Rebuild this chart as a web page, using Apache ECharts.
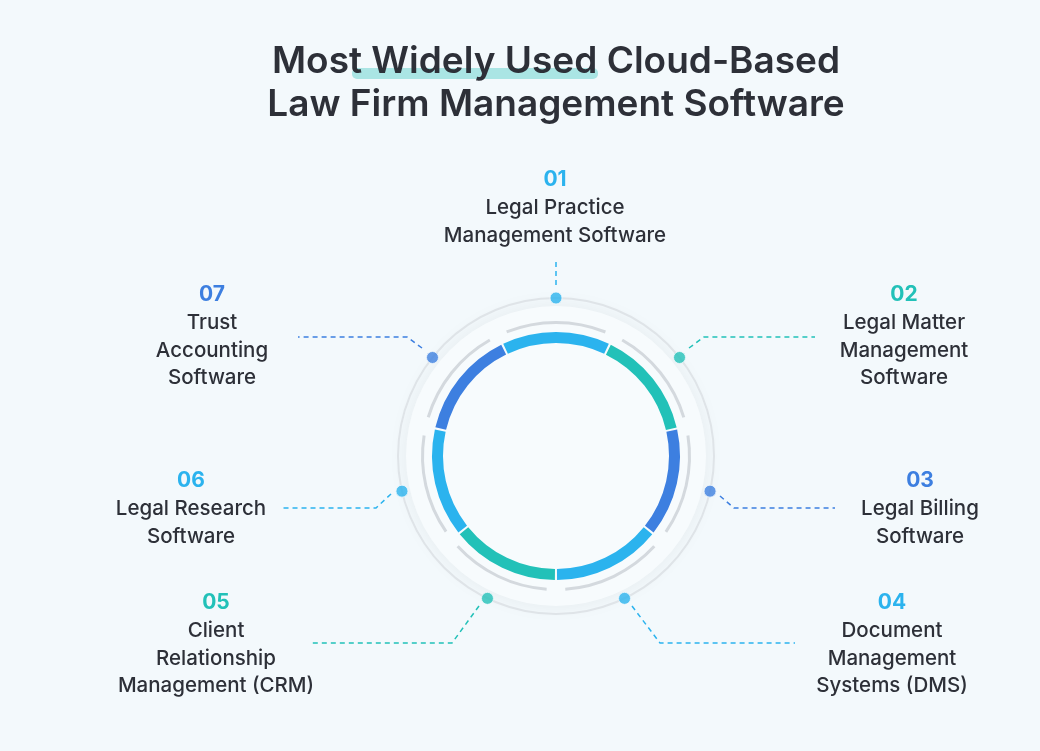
<!DOCTYPE html>
<html><head><meta charset="utf-8">
<script src="https://cdn.jsdelivr.net/npm/echarts@6/dist/echarts.min.js"></script>
<style>html,body{margin:0;padding:0;background:#f3f9fc}#c{width:1040px;height:751px}</style>
</head><body><div id="c"></div>
<script>
const numbers = ['01','02','03','04','05','06','07'];
const categories = [
  ['Legal Practice','Management Software'],
  ['Legal Matter','Management','Software'],
  ['Legal Billing','Software'],
  ['Document','Management','Systems (DMS)'],
  ['Client','Relationship','Management (CRM)'],
  ['Legal Research','Software'],
  ['Trust','Accounting','Software']
];
const segmentValues = [1,1,1,1,1,1,1];
const colors = ['#2bb3ee','#22c1b8','#3d7fe0','#2bb3ee','#22c1b8','#2bb3ee','#3d7fe0'];
const labelPos = [[555,180],[904,295],[920,481],[892,603],[216,603],[191,481],[212,295]];
const leaders = [
  [[556,262],[556,288]],
  [[689,348],[704,337],[815,337]],
  [[720,496],[734,508],[835,508]],
  [[632,606],[660,643],[795,643]],
  [[479,606],[452,643],[310,643]],
  [[391,494],[376,508],[280,508]],
  [[422,348],[407,337],[298,337]]
];
const C=[556,456];
const chart = echarts.init(document.getElementById('c'));
const tf='600 37px Inter, "Open Sans", sans-serif';
const graphic = [
  {type:'rect',shape:{x:352,y:68,width:246,height:11,r:5},style:{fill:'rgba(34,193,184,0.35)'},z:-1},
  {type:'text',style:{text:'Most Widely Used Cloud-Based',x:556,y:62,align:'center',verticalAlign:'middle',font:tf,fill:'#2d3038'}},
  {type:'text',style:{text:'Law Firm Management Software',x:556,y:105,align:'center',verticalAlign:'middle',font:tf,fill:'#2d3038'}}
];
numbers.forEach((n,i)=>{
  const [x,y]=labelPos[i];
  graphic.push({type:'text',style:{text:n,x:x,y:y,align:'center',verticalAlign:'middle',font:'bold 21px Inter, sans-serif',fill:colors[i]}});
  categories[i].forEach((t,j)=>{
    graphic.push({type:'text',style:{text:t,x:x,y:y+28+j*27.5,align:'center',verticalAlign:'middle',font:'500 20.5px Inter, sans-serif',fill:'#2d3038'}});
  });
  graphic.push({type:'polyline',shape:{points:leaders[i]},style:{stroke:colors[i],lineWidth:1.5,lineDash:[5,4],fill:null}});
});
chart.setOption({
  backgroundColor:'#f3f9fc',
  graphic: graphic,
  polar:{center:C,radius:158},
  angleAxis:{type:'value',min:0,max:360,startAngle:90,show:false},
  radiusAxis:{type:'value',min:0,max:158,show:false},
  series:[
    {type:'pie',center:C,radius:[0,150],silent:true,label:{show:false},data:[{value:1,itemStyle:{color:'#f7fbfd',shadowBlur:20,shadowColor:'rgba(0,0,0,0.06)'}}]},
    {type:'pie',center:C,radius:[157,159],silent:true,label:{show:false},data:[{value:1,itemStyle:{color:'#dfe4e8'}}]},
    {type:'pie',center:C,radius:[132,135],silent:true,label:{show:false},startAngle:115.7,padAngle:8,data:segmentValues.map(v=>({value:v,itemStyle:{color:'#d4d9de'}}))},
    {type:'pie',center:C,radius:[113,124],silent:true,label:{show:false},startAngle:115.7,padAngle:1,data:segmentValues.map((v,i)=>({value:v,name:numbers[i],itemStyle:{color:colors[i]}}))},
    {type:'scatter',coordinateSystem:'polar',symbolSize:12,silent:true,
      data:numbers.map((n,i)=>({value:[158,i*360/7],itemStyle:{color:colors[i],borderColor:'#f3f9fc',borderWidth:1}}))}
  ]
});
</script></body></html>
